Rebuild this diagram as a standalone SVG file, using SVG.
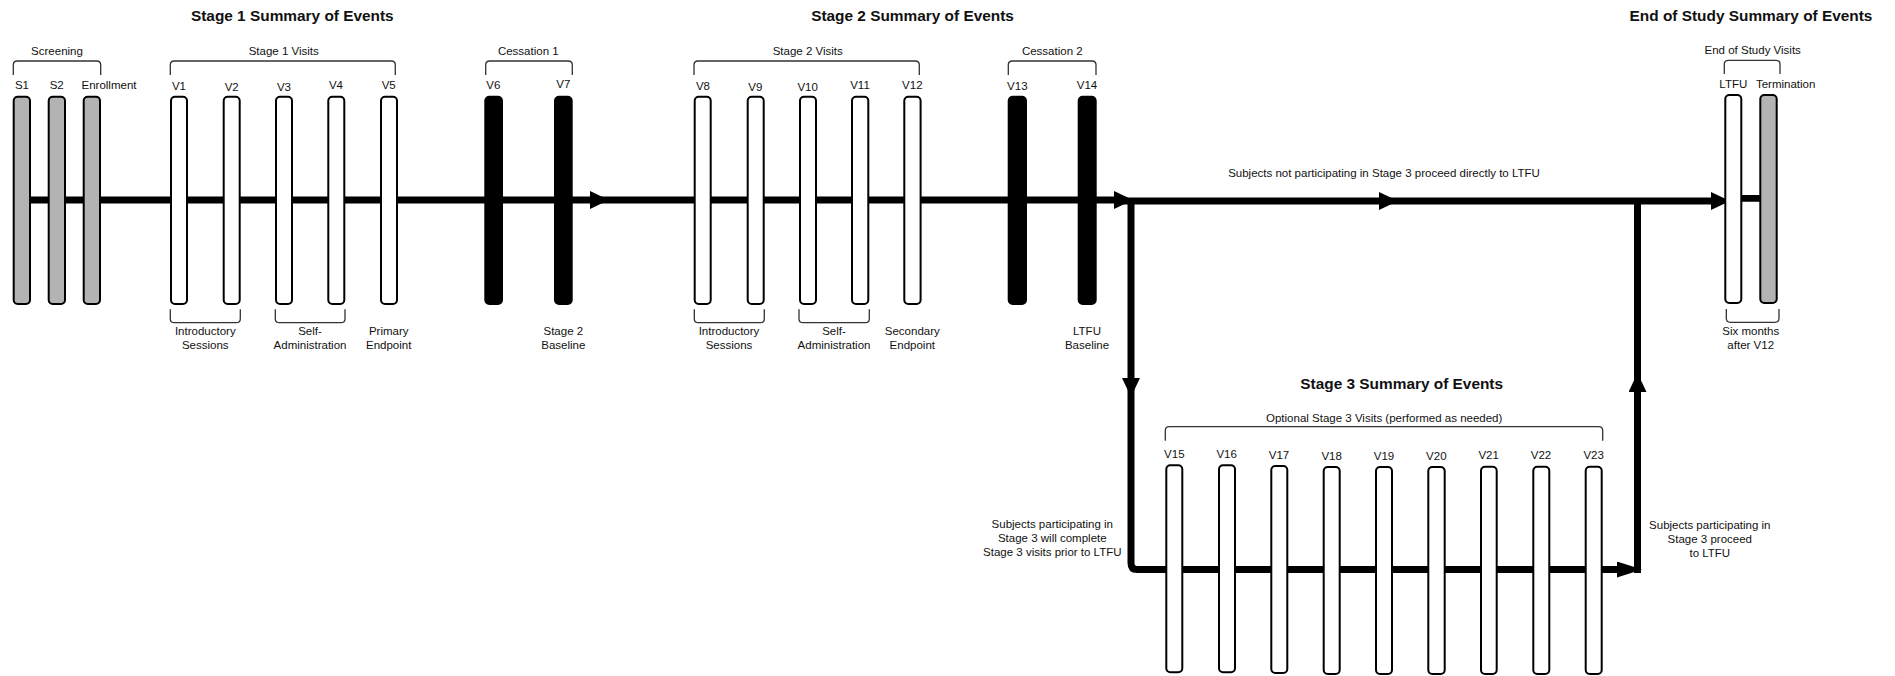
<svg xmlns="http://www.w3.org/2000/svg" width="1895" height="676" viewBox="0 0 1895 676">
<style>
text{font-family:"Liberation Sans",Arial,sans-serif;fill:#111}
.t{font-size:15.4px;font-weight:bold;text-anchor:middle}
.l{font-size:11.5px;text-anchor:middle}
.ln{fill:none;stroke:#000;stroke-width:7}
.br{fill:none;stroke:#333;stroke-width:1.3}
.w{fill:#fff;stroke:#000;stroke-width:2}
.g{fill:#b3b3b3;stroke:#000;stroke-width:2}
.k{fill:#000;stroke:#000;stroke-width:2}
</style>
<defs>
<marker id="arr" viewBox="0 0 19 18" refX="9" refY="9" markerWidth="19" markerHeight="18" markerUnits="userSpaceOnUse" orient="auto"><path d="M0,0 L19,9 L0,18 z" fill="#000"/></marker>
<marker id="arrL" viewBox="0 0 25 16" refX="12" refY="8" markerWidth="25" markerHeight="16" markerUnits="userSpaceOnUse" orient="auto"><path d="M0,0 L25,8 L0,16 z" fill="#000"/></marker>
</defs>

<g id="titles">
<text class="t" x="292.3" y="21">Stage 1 Summary of Events</text>
<text class="t" x="912.5" y="21">Stage 2 Summary of Events</text>
<text class="t" x="1751" y="21">End of Study Summary of Events</text>
<text class="t" x="1401.7" y="389">Stage 3 Summary of Events</text>
</g>

<g id="connectors">
<path class="ln" d="M22,200 H599" marker-end="url(#arr)"/>
<path class="ln" d="M595,200 H1123" marker-end="url(#arr)"/>
<path class="ln" d="M1120,201 H1388" marker-end="url(#arr)"/>
<path class="ln" d="M1385,201 H1720" marker-end="url(#arr)"/>
<path class="ln" d="M1131,200 V387" marker-end="url(#arr)"/>
<path class="ln" d="M1131,380 V563 Q1131,569.5 1137,569.5 H1629" marker-end="url(#arrL)"/>
<path class="ln" d="M1637.5,573 V383" marker-end="url(#arr)"/>
<path class="ln" d="M1637.5,390 V198"/>
<path class="ln" style="stroke-width:6.7" d="M1733,198.3 H1768"/>
</g>

<g id="brackets">
<path class="br" d="M13.3,75 V65 Q13.3,61 17.3,61 H96.7 Q100.7,61 100.7,65 V75"/>
<path class="br" d="M170.3,75 V65 Q170.3,61 174.3,61 H391.3 Q395.3,61 395.3,65 V75"/>
<path class="br" d="M485.7,75 V65 Q485.7,61 489.7,61 H568.3 Q572.3,61 572.3,65 V75"/>
<path class="br" d="M694,75 V65 Q694,61 698,61 H915.3 Q919.3,61 919.3,65 V75"/>
<path class="br" d="M1008.3,75 V65 Q1008.3,61 1012.3,61 H1092 Q1096,61 1096,65 V75"/>
<path class="br" d="M1724.3,74 V64.3 Q1724.3,60.3 1728.3,60.3 H1776 Q1780,60.3 1780,64.3 V74"/>
<path class="br" d="M1165.3,440.7 V430.7 Q1165.3,426.7 1169.3,426.7 H1598.7 Q1602.7,426.7 1602.7,430.7 V440.7"/>
<path class="br" d="M170.3,309.3 V318.7 Q170.3,322.7 174.3,322.7 H236.3 Q240.3,322.7 240.3,318.7 V309.3"/>
<path class="br" d="M275.3,309.3 V318.7 Q275.3,322.7 279.3,322.7 H341 Q345,322.7 345,318.7 V309.3"/>
<path class="br" d="M694.3,309.3 V318.7 Q694.3,322.7 698.3,322.7 H760.3 Q764.3,322.7 764.3,318.7 V309.3"/>
<path class="br" d="M799,309.3 V318.7 Q799,322.7 803,322.7 H865.3 Q869.3,322.7 869.3,318.7 V309.3"/>
<path class="br" d="M1726.3,309 V318.3 Q1726.3,322.3 1730.3,322.3 H1775 Q1779,322.3 1779,318.3 V309"/>
</g>

<g id="group-labels">
<text class="l" x="57" y="55">Screening</text>
<text class="l" x="283.7" y="55">Stage 1 Visits</text>
<text class="l" x="528.3" y="55.3">Cessation 1</text>
<text class="l" x="807.7" y="55.3">Stage 2 Visits</text>
<text class="l" x="1052.3" y="54.7">Cessation 2</text>
<text class="l" x="1752.7" y="53.8">End of Study Visits</text>
<text class="l" x="1384.2" y="421.5">Optional Stage 3 Visits (performed as needed)</text>
<text class="l" x="205.3" y="334.5">Introductory</text>
<text class="l" x="205.3" y="348.5">Sessions</text>
<text class="l" x="310" y="334.5">Self-</text>
<text class="l" x="310" y="348.5">Administration</text>
<text class="l" x="388.7" y="334.5">Primary</text>
<text class="l" x="388.7" y="348.5">Endpoint</text>
<text class="l" x="563.3" y="334.5">Stage 2</text>
<text class="l" x="563.3" y="348.5">Baseline</text>
<text class="l" x="729" y="334.5">Introductory</text>
<text class="l" x="729" y="348.5">Sessions</text>
<text class="l" x="834" y="334.5">Self-</text>
<text class="l" x="834" y="348.5">Administration</text>
<text class="l" x="912.3" y="334.5">Secondary</text>
<text class="l" x="912.3" y="348.5">Endpoint</text>
<text class="l" x="1087" y="334.5">LTFU</text>
<text class="l" x="1087" y="348.5">Baseline</text>
<text class="l" x="1750.7" y="335">Six months</text>
<text class="l" x="1750.7" y="349">after V12</text>
<text class="l" x="1384" y="177">Subjects not participating in Stage 3 proceed directly to LTFU</text>
<text class="l" x="1052.3" y="528">Subjects participating in</text>
<text class="l" x="1052.3" y="542">Stage 3 will complete</text>
<text class="l" x="1052.3" y="556">Stage 3 visits prior to LTFU</text>
<text class="l" x="1709.8" y="529">Subjects participating in</text>
<text class="l" x="1709.8" y="543">Stage 3 proceed</text>
<text class="l" x="1709.8" y="557">to LTFU</text>
</g>

<g id="S1"><rect class="g" x="13.7" y="96.7" width="16.3" height="207.3" rx="4"/><text class="l" x="22" y="89.3">S1</text></g>
<g id="S2"><rect class="g" x="48.7" y="96.7" width="16.3" height="207.3" rx="4"/><text class="l" x="56.7" y="89.3">S2</text></g>
<g id="Enrollment"><rect class="g" x="83.7" y="96.7" width="16.3" height="207.3" rx="4"/><text class="l" x="109" y="89">Enrollment</text></g>
<g id="V1"><rect class="w" x="171" y="96.7" width="16" height="207.3" rx="4"/><text class="l" x="179" y="90">V1</text></g>
<g id="V2"><rect class="w" x="223.7" y="96.7" width="16" height="207.3" rx="4"/><text class="l" x="231.7" y="91">V2</text></g>
<g id="V3"><rect class="w" x="276" y="96.7" width="16" height="207.3" rx="4"/><text class="l" x="284" y="90.7">V3</text></g>
<g id="V4"><rect class="w" x="328.3" y="96.7" width="16" height="207.3" rx="4"/><text class="l" x="336" y="89.3">V4</text></g>
<g id="V5"><rect class="w" x="381" y="96.7" width="16" height="207.3" rx="4"/><text class="l" x="388.7" y="89.3">V5</text></g>
<g id="V6"><rect class="k" x="485.3" y="96.7" width="16.7" height="207.3" rx="4"/><text class="l" x="493.3" y="89">V6</text></g>
<g id="V7"><rect class="k" x="555" y="96.7" width="16.7" height="207.3" rx="4"/><text class="l" x="563.3" y="87.7">V7</text></g>
<g id="V8"><rect class="w" x="694.7" y="96.7" width="16" height="207.3" rx="4"/><text class="l" x="703" y="90">V8</text></g>
<g id="V9"><rect class="w" x="747.7" y="96.7" width="16" height="207.3" rx="4"/><text class="l" x="755.3" y="91">V9</text></g>
<g id="V10"><rect class="w" x="800" y="96.7" width="16" height="207.3" rx="4"/><text class="l" x="807.7" y="90.7">V10</text></g>
<g id="V11"><rect class="w" x="852" y="96.7" width="16.3" height="207.3" rx="4"/><text class="l" x="860" y="89.3">V11</text></g>
<g id="V12"><rect class="w" x="904.3" y="96.7" width="16.3" height="207.3" rx="4"/><text class="l" x="912.3" y="89.3">V12</text></g>
<g id="V13"><rect class="k" x="1008.7" y="96.7" width="17.3" height="207.3" rx="4"/><text class="l" x="1017.3" y="90.3">V13</text></g>
<g id="V14"><rect class="k" x="1078.7" y="96.7" width="17" height="207.3" rx="4"/><text class="l" x="1087" y="88.7">V14</text></g>
<g id="LTFU"><rect class="w" x="1725.3" y="95" width="16" height="208" rx="4"/><text class="l" x="1733.3" y="88.3">LTFU</text></g>
<g id="Termination"><rect class="g" x="1760.3" y="95" width="16.4" height="208" rx="4"/><text class="l" x="1785.7" y="88.3">Termination</text></g>

<g id="V15"><rect class="w" x="1166.3" y="465.3" width="16" height="207" rx="4"/><text class="l" x="1174.3" y="458.3">V15</text></g>
<g id="V16"><rect class="w" x="1219" y="465.3" width="16" height="207" rx="4"/><text class="l" x="1226.7" y="458.3">V16</text></g>
<g id="V17"><rect class="w" x="1271.3" y="466" width="16" height="207" rx="4"/><text class="l" x="1279" y="459">V17</text></g>
<g id="V18"><rect class="w" x="1323.7" y="467" width="16" height="207" rx="4"/><text class="l" x="1331.7" y="459.7">V18</text></g>
<g id="V19"><rect class="w" x="1376" y="467" width="16" height="207" rx="4"/><text class="l" x="1384" y="459.7">V19</text></g>
<g id="V20"><rect class="w" x="1428.3" y="467" width="16.4" height="207" rx="4"/><text class="l" x="1436.3" y="460.3">V20</text></g>
<g id="V21"><rect class="w" x="1481" y="466.7" width="15.7" height="207.3" rx="4"/><text class="l" x="1488.7" y="459.3">V21</text></g>
<g id="V22"><rect class="w" x="1533.3" y="466.7" width="16" height="207.3" rx="4"/><text class="l" x="1541" y="459.3">V22</text></g>
<g id="V23"><rect class="w" x="1585.7" y="466.7" width="16" height="207.3" rx="4"/><text class="l" x="1593.7" y="459.3">V23</text></g>
</svg>
